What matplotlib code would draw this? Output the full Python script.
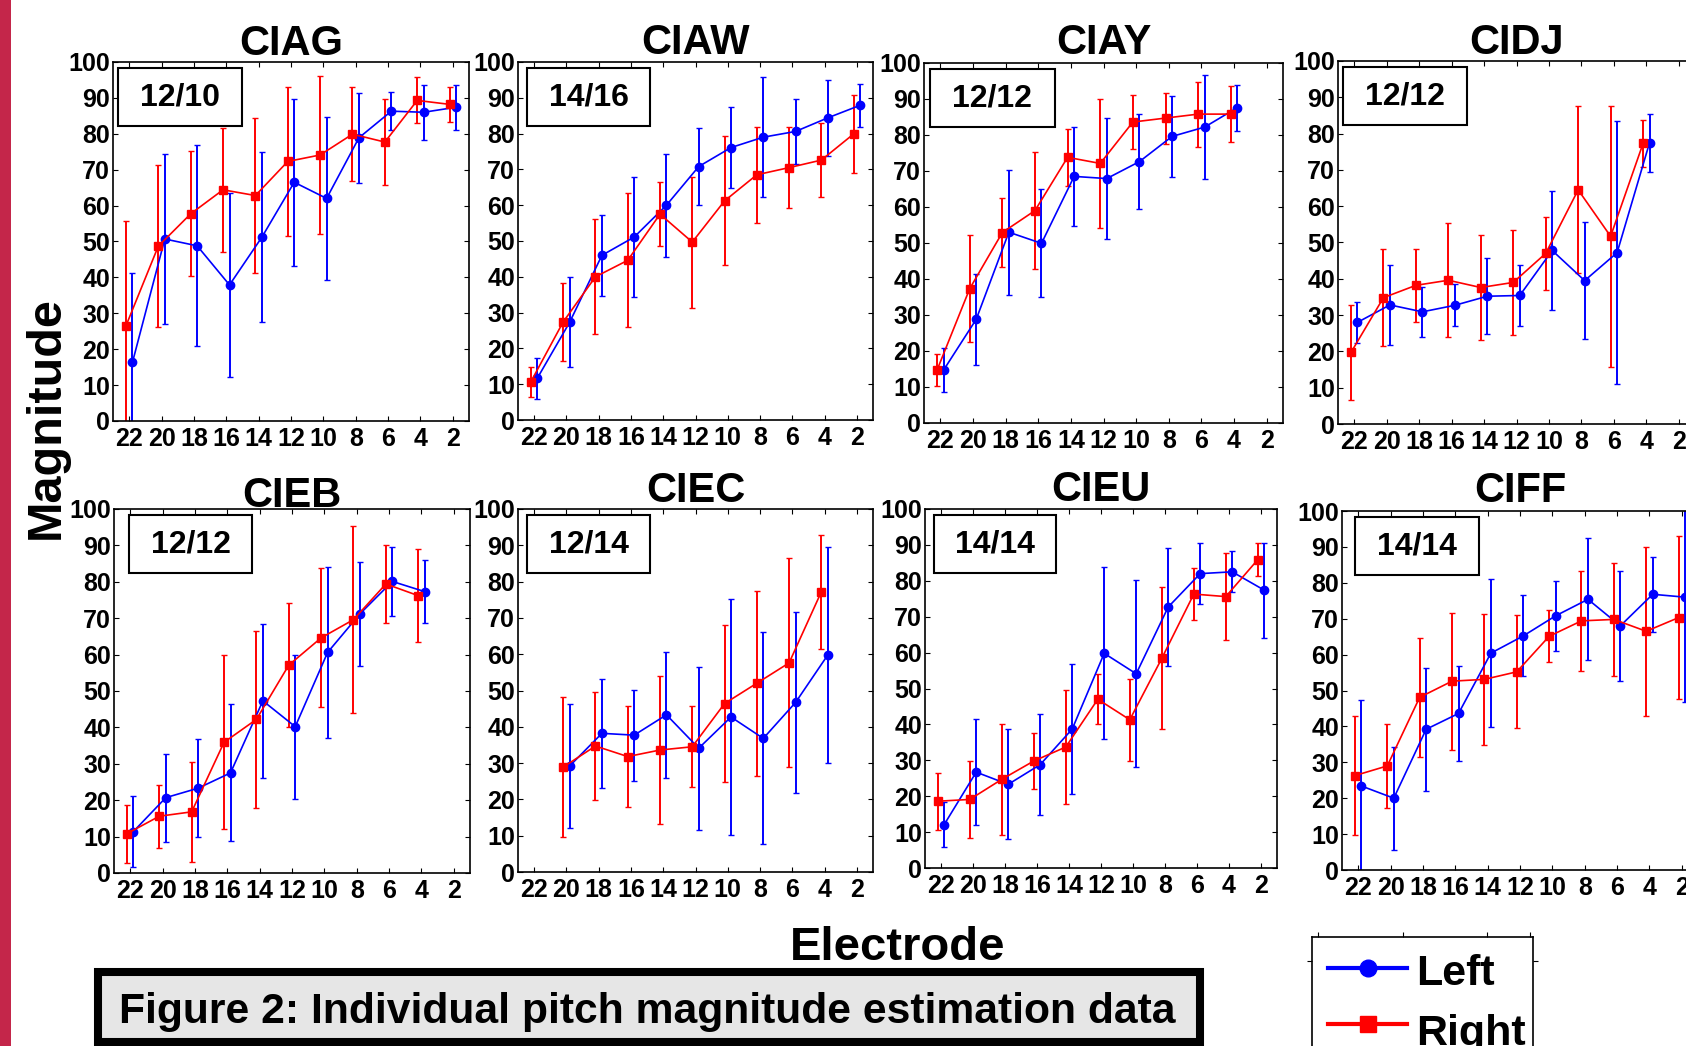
import matplotlib
matplotlib.use("Agg")
import matplotlib.pyplot as plt
from matplotlib.patches import Rectangle

plt.rcParams["font.family"] = ["Liberation Sans", "DejaVu Sans"]
plt.rcParams["font.weight"] = "bold"

# Electrode numbers (apical -> basal)
ELEC_ALL = [22, 20, 18, 16, 14, 12, 10, 8, 6, 4, 2]
ELEC_TO4 = [22, 20, 18, 16, 14, 12, 10, 8, 6, 4]
ELEC_20TO4 = [20, 18, 16, 14, 12, 10, 8, 6, 4]

SUBJECTS = ["CIAG", "CIAW", "CIAY", "CIDJ", "CIEB", "CIEC", "CIEU", "CIFF"]
COUNTS = ["12/10", "14/16", "12/12", "12/12", "12/12", "12/14", "14/14", "14/14"]

ciag_left = [16.3, 50.7, 48.8, 37.9, 51.2, 66.5, 62.0, 78.9, 86.3, 86.0, 87.4]
ciag_left_err = [25.0, 23.8, 28.0, 25.6, 23.7, 23.3, 22.8, 12.6, 5.3, 7.7, 6.3]
ciag_right = [26.5, 48.7, 57.7, 64.4, 62.8, 72.3, 74.1, 79.9, 77.7, 89.3, 88.2]
ciag_right_err = [29.3, 22.6, 17.4, 17.3, 21.5, 20.7, 21.9, 13.0, 12.1, 6.4, 4.9]

ciaw_left = [11.7, 27.3, 46.0, 51.1, 60.0, 70.8, 76.1, 79.0, 80.6, 84.4, 87.9]
ciaw_left_err = [5.7, 12.6, 11.3, 16.8, 14.4, 10.8, 11.3, 16.8, 9.1, 10.6, 6.0]
ciaw_right = [10.7, 27.4, 40.0, 44.6, 57.5, 49.7, 61.2, 68.5, 70.5, 72.6, 79.9]
ciaw_right_err = [4.2, 11.0, 16.1, 18.7, 9.0, 18.3, 18.0, 13.4, 11.4, 10.4, 11.0]

ciay_left = [14.7, 28.8, 53.0, 49.9, 68.5, 67.9, 72.6, 79.6, 82.2, 87.6]
ciay_left_err = [6.0, 12.7, 17.4, 15.0, 13.7, 16.8, 13.1, 11.3, 14.5, 6.4]
ciay_right = [14.7, 37.3, 52.9, 59.0, 73.8, 72.1, 83.6, 84.7, 85.8, 85.8]
ciay_right_err = [4.4, 14.8, 9.6, 16.2, 8.0, 17.8, 7.5, 7.1, 9.0, 7.8]

cidj_left = [28.0, 32.8, 30.9, 32.7, 35.2, 35.4, 47.8, 39.5, 47.2, 77.5]
cidj_left_err = [5.6, 10.9, 6.8, 5.8, 10.5, 8.3, 16.5, 16.2, 36.2, 8.0]
cidj_right = [19.7, 34.8, 38.2, 39.6, 37.6, 39.0, 47.0, 64.5, 51.7, 77.3]
cidj_right_err = [13.1, 13.3, 10.0, 15.7, 14.4, 14.5, 10.0, 23.0, 36.0, 6.4]

cieb_left = [11.4, 20.7, 23.3, 27.5, 47.3, 40.2, 60.6, 71.2, 80.1, 77.3]
cieb_left_err = [9.8, 12.1, 13.5, 18.8, 21.2, 19.8, 23.4, 14.2, 9.4, 8.6]
cieb_right = [10.8, 15.6, 16.8, 35.9, 42.2, 57.1, 64.6, 69.6, 79.4, 76.2]
cieb_right_err = [8.0, 8.7, 13.8, 23.9, 24.3, 17.0, 19.1, 25.6, 10.6, 12.7]

ciec_left = [29.2, 38.2, 37.7, 43.3, 34.1, 42.7, 36.8, 46.7, 59.8]
ciec_left_err = [17.0, 15.1, 12.5, 17.3, 22.4, 32.4, 29.2, 24.9, 29.7]
ciec_right = [28.9, 34.7, 31.8, 33.6, 34.5, 46.4, 52.0, 57.6, 77.2]
ciec_right_err = [19.2, 14.9, 13.8, 20.4, 11.1, 21.6, 25.5, 28.8, 15.7]

cieu_left = [12.1, 26.7, 23.3, 28.8, 38.7, 59.8, 54.1, 72.7, 82.0, 82.5, 77.4]
cieu_left_err = [6.3, 14.8, 15.3, 14.0, 18.2, 24.0, 26.0, 16.3, 8.6, 5.7, 13.2]
cieu_right = [18.6, 19.1, 24.7, 29.8, 33.7, 47.0, 41.3, 58.4, 76.3, 75.6, 85.9]
cieu_right_err = [7.9, 10.8, 15.5, 7.7, 15.9, 7.0, 11.4, 19.8, 7.2, 12.2, 4.5]

ciff_left = [23.4, 20.0, 39.2, 43.6, 60.4, 65.2, 70.8, 75.4, 68.0, 76.8, 76.0]
ciff_left_err = [24.0, 14.4, 17.2, 13.2, 20.6, 11.3, 9.8, 17.0, 15.4, 10.4, 29.3]
ciff_right = [26.3, 29.0, 48.1, 52.6, 53.1, 55.2, 65.1, 69.4, 69.8, 66.5, 70.3]
ciff_right_err = [16.6, 11.8, 16.5, 19.1, 18.3, 15.7, 7.3, 13.9, 15.7, 23.6, 22.7]

panels = [
    (ELEC_ALL, ciag_left, ciag_left_err, ciag_right, ciag_right_err),
    (ELEC_ALL, ciaw_left, ciaw_left_err, ciaw_right, ciaw_right_err),
    (ELEC_TO4, ciay_left, ciay_left_err, ciay_right, ciay_right_err),
    (ELEC_TO4, cidj_left, cidj_left_err, cidj_right, cidj_right_err),
    (ELEC_TO4, cieb_left, cieb_left_err, cieb_right, cieb_right_err),
    (ELEC_20TO4, ciec_left, ciec_left_err, ciec_right, ciec_right_err),
    (ELEC_ALL, cieu_left, cieu_left_err, cieu_right, cieu_right_err),
    (ELEC_ALL, ciff_left, ciff_left_err, ciff_right, ciff_right_err),
]

# layout in pixels (left, top, right, bottom)
W, H = 1686, 1046
RECTS = [(113, 62, 469, 421), (518, 62, 873, 420), (924, 63, 1283, 423), (1338, 61, 1695, 424),
         (114, 509, 470, 873), (518, 509, 873, 872), (925, 509, 1277, 868), (1342, 511, 1698, 870)]
TITLE_GAP = [7, 8, 9, 7, 2, 7, 8, 9]
BOX_X = [0.014, 0.025, 0.017, 0.014, 0.042, 0.025, 0.025, 0.037]

fig = plt.figure(figsize=(W / 100, H / 100), dpi=100)


def px_axes(l, t, r, b):
    return fig.add_axes([l / W, 1 - b / H, (r - l) / W, (b - t) / H])


for i, (elec, lm, le, rm, re) in enumerate(panels):
    l, t, r, b = RECTS[i]
    ax = px_axes(l, t, r, b)
    xl = [e - 0.2 for e in elec]
    xr = [e + 0.2 for e in elec]
    ax.errorbar(xl, lm, yerr=le, color="#0000ff", marker="o", ms=6, lw=1.2,
                elinewidth=1.4, capsize=2.5, capthick=1.0)
    ax.errorbar(xr, rm, yerr=re, color="#ff0000", marker="s", ms=5.5, lw=1.2,
                elinewidth=1.4, capsize=2.5, capthick=1.0)
    ax.set_xlim(23, 1)
    ax.set_ylim(0, 100)
    ax.set_xticks(ELEC_ALL)
    ax.set_xticklabels([str(e) for e in ELEC_ALL])
    ax.set_yticks(range(0, 101, 10))
    ax.tick_params(direction="in", top=True, right=True, length=3.5, width=0.8,
                   labelsize=18)
    ax.tick_params(axis="x", pad=4)
    ax.tick_params(axis="y", pad=2)
    for lab in ax.get_xticklabels() + ax.get_yticklabels():
        lab.set_fontweight("bold")
    for sp in ax.spines.values():
        sp.set_linewidth(1.2)
    ax.text(0.5, 1 + TITLE_GAP[i] / (b - t), SUBJECTS[i], transform=ax.transAxes,
            ha="center", va="baseline", fontsize=30, fontweight="bold")
    bh = 58 / (b - t)
    ax.add_patch(Rectangle((BOX_X[i], 0.983 - bh), 0.347, bh, transform=ax.transAxes,
                           facecolor="white", edgecolor="black", lw=1.5, zorder=5))
    ax.text(BOX_X[i] + 0.347 / 2, 0.983 - bh / 2, COUNTS[i], transform=ax.transAxes,
            ha="center", va="center", fontsize=23, fontweight="bold", zorder=6)

# left red strip
fig.add_artist(Rectangle((0, 0), 11 / W, 1, transform=fig.transFigure,
                         facecolor="#c4264a", edgecolor="none"))

fig.text(46 / W, 1 - 418 / H, "Magnitude", rotation=90, ha="center", va="center",
         fontsize=35, fontweight="bold")
fig.text(898 / W, 1 - 960 / H, "Electrode", ha="center", va="baseline",
         fontsize=34, fontweight="bold")

# caption box
fig.add_artist(Rectangle((98 / W, 1 - 1042 / H), 1102 / W, 70 / H, transform=fig.transFigure,
                         facecolor="#e6e6e6", edgecolor="black", lw=5.8))
fig.text(119 / W, 1 - 1023 / H, "Figure 2: Individual pitch magnitude estimation data",
         ha="left", va="baseline", fontsize=30.7, fontweight="bold")

# legend drawn in its own small axes (pixel units, y down)
lax = px_axes(1312, 937, 1533, 1110)
lax.set_xlim(0, 221)
lax.set_ylim(173, 0)
lax.xaxis.set_ticks_position("top")
lax.set_xticks([6, 91, 175, 218])
lax.set_yticks([24])
lax.tick_params(direction="out", length=3.5, width=0.8, labeltop=False, labelleft=False,
                right=True, left=True)
for sp in lax.spines.values():
    sp.set_linewidth(1.2)
lax.plot([16, 95], [31, 31], color="#0000ff", lw=3)
lax.plot([55.5], [31], "o", color="#0000ff", ms=12)
lax.text(104, 48, "Left", ha="left", va="baseline", fontsize=31, fontweight="bold")
lax.plot([16, 95], [87, 87], color="#ff0000", lw=3)
lax.plot([55.5], [87], "s", color="#ff0000", ms=11)
lax.text(104, 108, "Right", ha="left", va="baseline", fontsize=31, fontweight="bold")

fig.savefig("out.png", dpi=100)
